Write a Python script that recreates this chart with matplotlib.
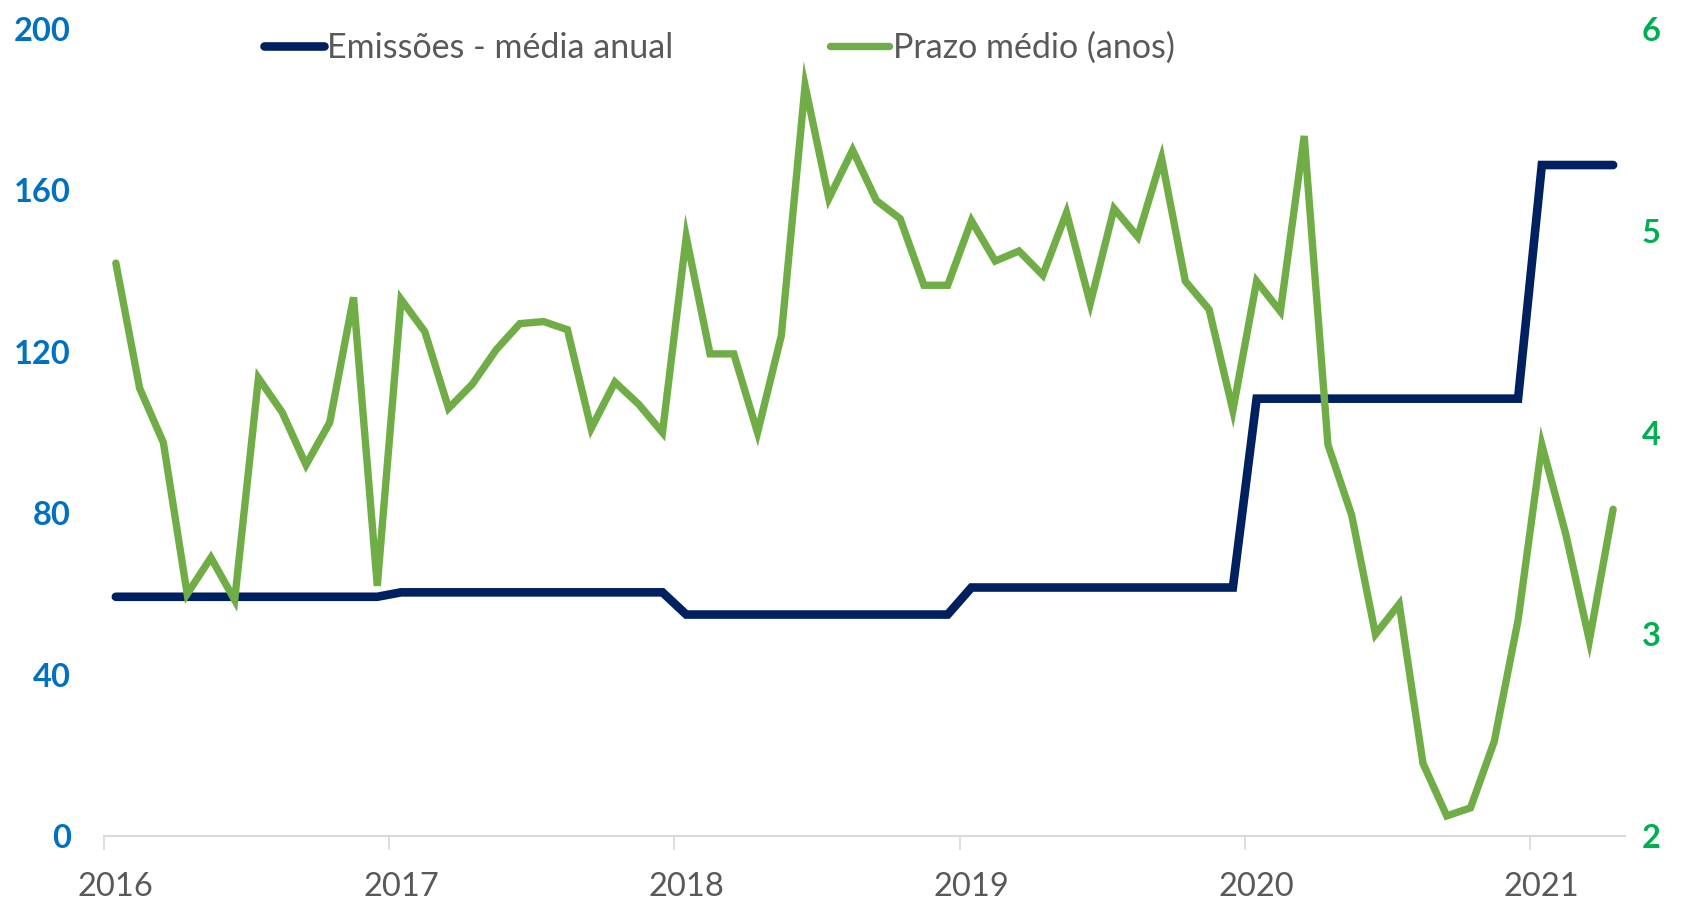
import numpy as np
import matplotlib.pyplot as plt

# monthly data, Jan 2016 .. Apr 2021
years = ["2016", "2017", "2018", "2019", "2020", "2021"]
emissoes_por_ano = [59.3, 60.4, 54.9, 61.6, 108.4, 166.3]
meses_por_ano = [12, 12, 12, 12, 12, 4]
emissoes = np.repeat(emissoes_por_ano, meses_por_ano)

prazo = [4.84, 4.22, 3.95, 3.20, 3.38, 3.17, 4.27, 4.10, 3.84, 4.05, 4.67, 3.24,
         4.66, 4.50, 4.12, 4.24, 4.41, 4.54, 4.55, 4.51, 4.02, 4.25, 4.14, 4.00,
         4.97, 4.39, 4.39, 4.00, 4.48, 5.72, 5.16, 5.40, 5.15, 5.06, 4.73, 4.73,
         5.05, 4.85, 4.90, 4.78, 5.09, 4.64, 5.11, 4.97, 5.36, 4.75, 4.61, 4.11,
         4.75, 4.60, 5.47, 3.94, 3.59, 3.00, 3.15, 2.36, 2.10, 2.14, 2.47, 3.07,
         3.94, 3.50, 2.97, 3.62]

navy = "#002060"
green = "#70AD47"
gray = "#595959"

plt.rcParams['font.family'] = ['Lato', 'DejaVu Sans']

fig = plt.figure(figsize=(16.85, 8.99), dpi=100)
ax = fig.add_axes([0.0617, 0.070, 0.9027, 0.8977])
ax2 = ax.twinx()

x = np.arange(len(prazo))
l1, = ax.plot(x, emissoes, color=navy, lw=6.2, solid_capstyle='round',
              solid_joinstyle='miter', label="Emissões - média anual")
l2, = ax2.plot(x, prazo, color=green, lw=5.3, solid_capstyle='round',
               solid_joinstyle='miter', label="Prazo médio (anos)")

ax.set_xlim(-0.5, len(prazo) - 0.5)
ax.set_ylim(0, 200)
ax2.set_ylim(2, 6)

ax.set_yticks(np.arange(0, 201, 40))
ax2.set_yticks(np.arange(2, 7, 1))

# ticks between categories, labels on the first month of each year
ax.set_xticks(np.arange(len(years)) * 12 - 0.5)
ax.set_xticklabels([])
ax.set_xticks(np.arange(len(years)) * 12, minor=True)
ax.set_xticklabels(years, minor=True)
ax.tick_params(axis='x', which='major', length=10, width=1.2, color="#D9D9D9",
               direction='out')
ax.tick_params(axis='x', which='minor', length=0, pad=26, labelsize=23.5,
               labelcolor=gray)

ax.tick_params(axis='y', length=0, pad=24, labelsize=23.5, labelcolor="#0070C0")
ax2.tick_params(axis='y', length=0, pad=12, labelsize=23.5, labelcolor="#00B050")
for lab in ax.get_yticklabels():
    lab.set_fontweight('bold')
for lab in ax2.get_yticklabels():
    lab.set_fontweight('bold')

for a in (ax, ax2):
    for s in ("top", "left", "right", "bottom"):
        a.spines[s].set_visible(False)
ax.spines["bottom"].set_visible(True)
ax.spines["bottom"].set_color("#D9D9D9")
ax.spines["bottom"].set_linewidth(1.5)

fig.legend(handles=[l1, l2], loc='center', bbox_to_anchor=(0.427, 0.947),
           ncol=2, frameon=False, fontsize=24.5, labelcolor=gray,
           handlelength=1.75, handletextpad=0.1, columnspacing=4.6)

fig.savefig("out.png", dpi=100)
